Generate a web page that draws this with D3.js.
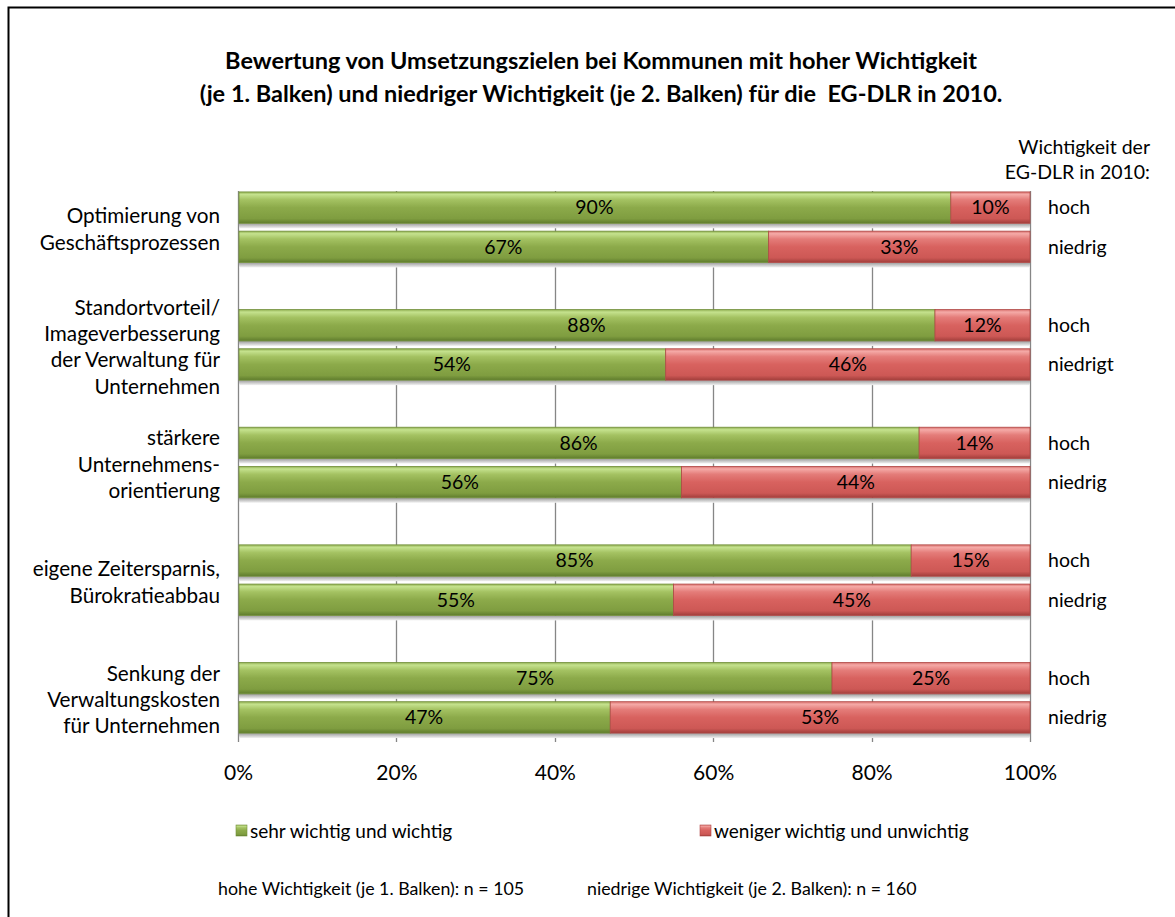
<!DOCTYPE html>
<html>
<head>
<meta charset="utf-8">
<script src="https://cdn.jsdelivr.net/npm/d3@7"></script>
<style>
  body { margin: 0; background: #fff; }
  svg text { font-family: Lato, "Open Sans", sans-serif; fill: #000; white-space: pre; }
</style>
</head>
<body>
<div id="wrapper"></div>
<script>
// categories (label lines), one per group of two bars
const categories = [
    ["Optimierung von", "Geschäftsprozessen"],
    ["Standortvorteil/", "Imageverbesserung", "der Verwaltung für", "Unternehmen"],
    ["stärkere", "Unternehmens-", "orientierung"],
    ["eigene Zeitersparnis,", "Bürokratieabbau"],
    ["Senkung der", "Verwaltungskosten", "für Unternehmen"]
]
// 1. Balken = hohe Wichtigkeit, 2. Balken = niedrige Wichtigkeit
const wichtigHoch = [90, 88, 86, 85, 75]
const wenigerHoch = [10, 12, 14, 15, 25]
const wichtigNiedrig = [67, 54, 56, 55, 47]
const wenigerNiedrig = [33, 46, 44, 45, 53]
const rowLabels = [
    ["hoch", "niedrig"],
    ["hoch", "niedrigt"],
    ["hoch", "niedrig"],
    ["hoch", "niedrig"],
    ["hoch", "niedrig"]
]
const tickValues = [0, 20, 40, 60, 80, 100]
const seriesNames = ["sehr wichtig und wichtig", "weniger wichtig und unwichtig"]
const footnotes = ["hohe Wichtigkeit (je 1. Balken): n = 105", "niedrige Wichtigkeit (je 2. Balken): n = 160"]

// build the rows: hoch, niedrig, (empty) per category
const rows = []
categories.forEach((c, i) => {
    rows.push({ row: i * 3, group: i, a: wichtigHoch[i], b: wenigerHoch[i], label: rowLabels[i][0] })
    rows.push({ row: i * 3 + 1, group: i, a: wichtigNiedrig[i], b: wenigerNiedrig[i], label: rowLabels[i][1] })
})

const width = 1175
const height = 917
const plot = { left: 238, right: 1030, top: 191, bottom: 742 }

const svg = d3.select("#wrapper").append("svg")
    .attr("width", width)
    .attr("height", height)

// gradients for the bevelled bars
const defs = svg.append("defs")
function addGradient(id, stops) {
    const g = defs.append("linearGradient").attr("id", id)
        .attr("x1", 0).attr("y1", 0).attr("x2", 0).attr("y2", 1)
    stops.forEach(s => g.append("stop").attr("offset", s[0]).attr("stop-color", s[1]))
}
addGradient("green", [[0, "#8fae50"], [0.08, "#c5e28e"], [0.25, "#a4c262"], [0.5, "#8caa4a"], [0.85, "#7f9d40"], [1, "#5f7c2d"]])
addGradient("red", [[0, "#d8706d"], [0.08, "#f5aaa7"], [0.25, "#e47c79"], [0.5, "#d8625f"], [0.85, "#cd5855"], [1, "#a13e3b"]])
addGradient("shadow", [[0, "#9a9a9a"], [1, "#f2f2f2"]])

// frame
svg.append("rect")
    .attr("x", 8.5).attr("y", 7.5)
    .attr("width", 1180).attr("height", 930)
    .attr("fill", "none").attr("stroke", "#000").attr("stroke-width", 2)

// title
const title = svg.append("text")
    .attr("text-anchor", "middle")
    .style("font-size", "23.5px").style("font-weight", "bold")
title.append("tspan").attr("x", 601).attr("y", 69)
    .text("Bewertung von Umsetzungszielen bei Kommunen mit hoher Wichtigkeit")
title.append("tspan").attr("x", 601).attr("y", 102)
    .text("(je 1. Balken) und niedriger Wichtigkeit (je 2. Balken) für die  EG-DLR in 2010.")

const xScale = d3.scaleLinear()
    .domain([0, 100])
    .range([plot.left, plot.right])

const yScale = d3.scaleBand()
    .domain(d3.range(14))
    .range([188, 737])
    .paddingInner(0.2)
    .paddingOuter(0.1)

// gridlines
svg.append("g").selectAll("line")
    .data(tickValues)
    .join("line")
    .attr("x1", d => Math.round(xScale(d)) + 0.5)
    .attr("x2", d => Math.round(xScale(d)) + 0.5)
    .attr("y1", plot.top)
    .attr("y2", plot.bottom)
    .attr("stroke", "#868686")
    .attr("stroke-width", 1.3)

// x axis labels
const xAxis = svg.append("g")
    .attr("transform", `translate(0, ${plot.bottom + 17})`)
    .call(d3.axisBottom(xScale).tickValues(tickValues).tickFormat(d => d + "%").tickSize(0))
xAxis.select(".domain").remove()
xAxis.selectAll("text")
    .style("font-family", "Lato, 'Open Sans', sans-serif")
    .style("font-size", "21px")
    .attr("dy", "0.85em")

const bh = yScale.bandwidth()

// shadows below bars
svg.append("g").selectAll("rect")
    .data(rows)
    .join("rect")
    .attr("x", xScale(0) + 1)
    .attr("y", d => yScale(d.row) + bh)
    .attr("width", xScale(100) - xScale(0) - 1)
    .attr("height", 5)
    .attr("fill", "url(#shadow)")

const bars = svg.append("g")
bars.selectAll("rect.a")
    .data(rows)
    .join("rect")
    .attr("class", "a")
    .attr("x", xScale(0) + 1)
    .attr("y", d => yScale(d.row))
    .attr("width", d => xScale(d.a) - xScale(0) - 1)
    .attr("height", bh)
    .attr("fill", "url(#green)")
    .attr("stroke", "#728f3a")
    .attr("stroke-width", 0.8)
bars.selectAll("rect.b")
    .data(rows)
    .join("rect")
    .attr("class", "b")
    .attr("x", d => xScale(d.a))
    .attr("y", d => yScale(d.row))
    .attr("width", d => xScale(d.a + d.b) - xScale(d.a))
    .attr("height", bh)
    .attr("fill", "url(#red)")
    .attr("stroke", "#b04845")
    .attr("stroke-width", 0.8)

// value labels
const labels = svg.append("g").style("font-size", "19.5px")
labels.selectAll("text.a")
    .data(rows)
    .join("text")
    .attr("class", "a")
    .attr("x", d => xScale(d.a / 2))
    .attr("y", d => yScale(d.row) + bh / 2)
    .attr("dy", "0.35em")
    .attr("text-anchor", "middle")
    .text(d => d.a + "%")
labels.selectAll("text.b")
    .data(rows)
    .join("text")
    .attr("class", "b")
    .attr("x", d => xScale(d.a + d.b / 2))
    .attr("y", d => yScale(d.row) + bh / 2)
    .attr("dy", "0.35em")
    .attr("text-anchor", "middle")
    .text(d => d.b + "%")

// right-hand labels
svg.append("g").style("font-size", "19.5px")
    .selectAll("text")
    .data(rows)
    .join("text")
    .attr("x", 1048)
    .attr("y", d => yScale(d.row) + bh / 2)
    .attr("dy", "0.35em")
    .text(d => d.label)

const rightHead = svg.append("text")
    .attr("text-anchor", "end")
    .style("font-size", "19.5px")
rightHead.append("tspan").attr("x", 1150).attr("y", 154).text("Wichtigkeit der")
rightHead.append("tspan").attr("x", 1150).attr("y", 179).text("EG-DLR in 2010:")

// category labels
const lineH = 26.3
categories.forEach((lines, i) => {
    const center = (yScale(i * 3) + yScale(i * 3 + 1) + bh) / 2 + 2
    const t = svg.append("text")
        .attr("text-anchor", "end")
        .style("font-size", "20.7px")
    lines.forEach((l, j) => {
        t.append("tspan")
            .attr("x", 220)
            .attr("y", center + (j - (lines.length - 1) / 2) * lineH)
            .attr("dy", "0.35em")
            .text(l)
    })
})

// legend
const legend = svg.append("g").style("font-size", "19px")
const legendX = [236, 700]
const legendColors = ["url(#green)", "url(#red)"]
seriesNames.forEach((name, i) => {
    legend.append("rect")
        .attr("x", legendX[i]).attr("y", 825)
        .attr("width", 11).attr("height", 11)
        .attr("fill", legendColors[i])
        .attr("stroke", i === 0 ? "#728f3a" : "#b04845")
        .attr("stroke-width", 0.6)
    legend.append("text")
        .attr("x", legendX[i] + 14).attr("y", 831)
        .attr("dy", "0.35em")
        .text(name)
})

// footnotes
const footX = [218, 587]
footnotes.forEach((f, i) => {
    svg.append("text")
        .attr("x", footX[i]).attr("y", 889)
        .attr("dy", "0.35em")
        .style("font-size", "17.8px")
        .text(f)
})
</script>
</body>
</html>
